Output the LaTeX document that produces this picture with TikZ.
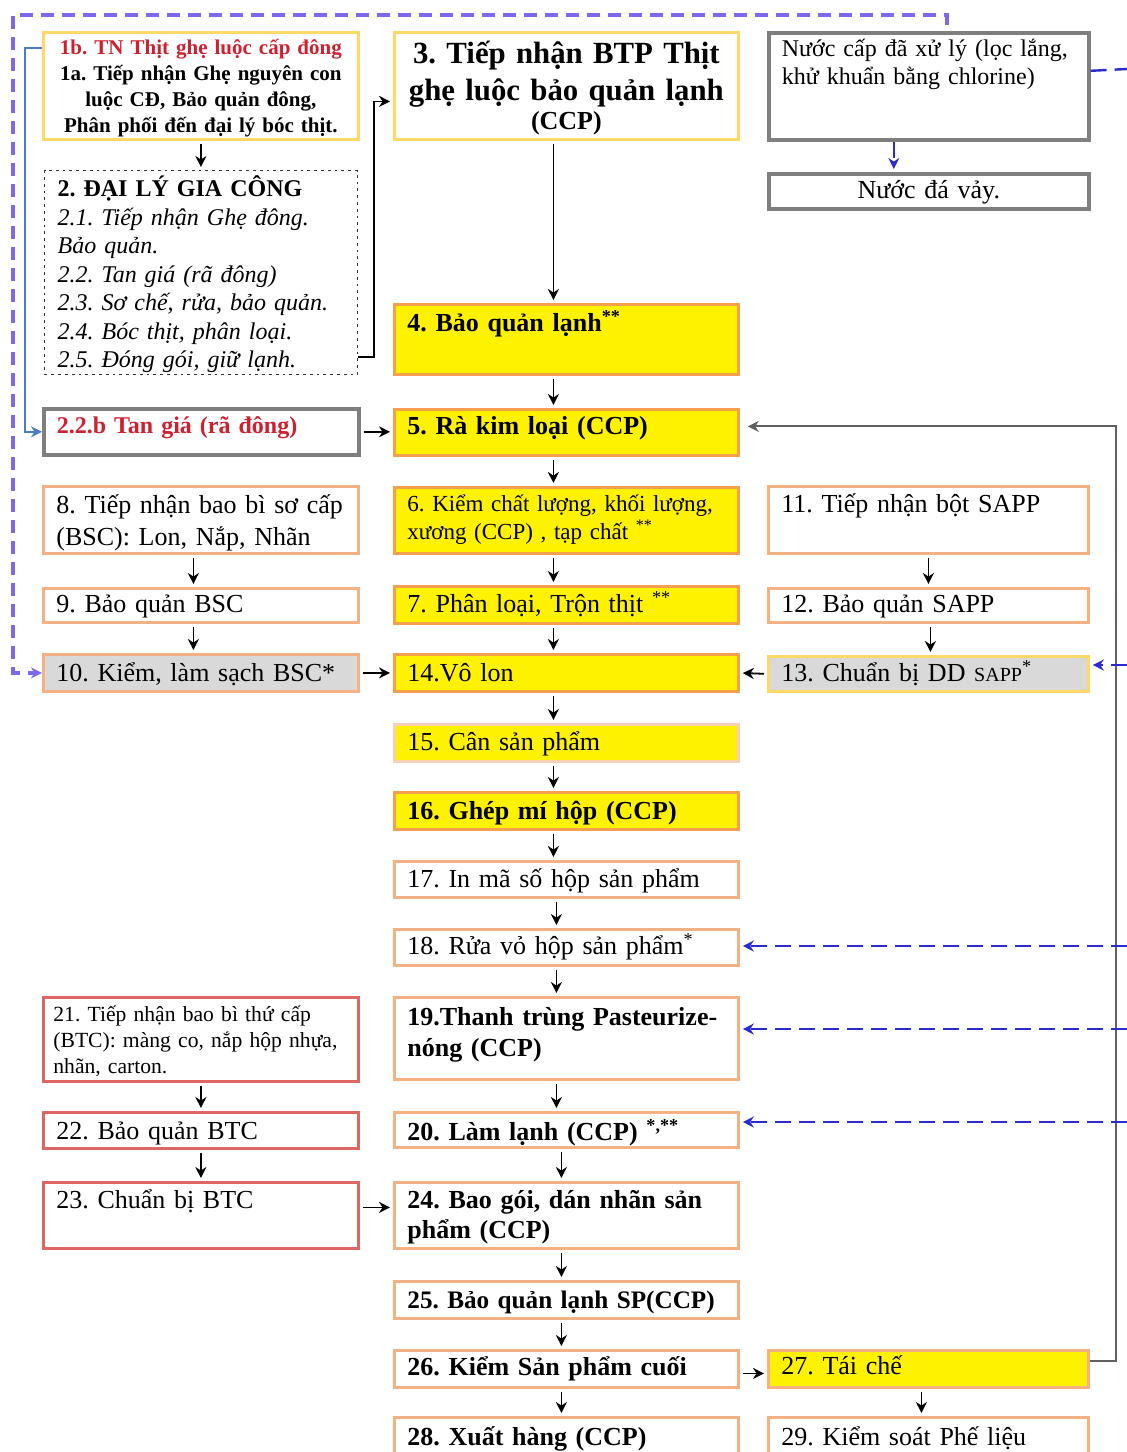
\documentclass[tikz,border=0pt]{standalone}
\usepackage{fontspec}
\setmainfont{Liberation Serif}
\usetikzlibrary{arrows.meta}

\definecolor{boxorange}{HTML}{F4B183}
\definecolor{yelorange}{HTML}{F5A04E}
\definecolor{goldline}{HTML}{FFD966}
\definecolor{boxgray}{HTML}{7F7F7F}
\definecolor{btcred}{HTML}{E06666}
\definecolor{graybg}{HTML}{D9D9D9}
\definecolor{txtred}{HTML}{D02030}
\definecolor{dashpurple}{HTML}{7B68EE}
\definecolor{waterblue}{HTML}{2A2AD0}
\definecolor{lineblue}{HTML}{4A7CC8}
\definecolor{recyclegray}{HTML}{606060}

\begin{document}
\frenchspacing
\begin{tikzpicture}[x=0.5pt,y=-0.5pt,>={Stealth[length=5.5pt,width=5.5pt]},
    stepbox/.style={draw,anchor=north west,inner xsep=6.5pt,inner ysep=0pt,
      align=left,line width=1.4pt,font=\fontsize{13}{16}\selectfont},
    btxt/.style={font=\fontsize{13}{16}\selectfont\bfseries},
    midcol/.style={minimum width=172pt,text width=159pt},
    leftcol/.style={minimum width=157.5pt,text width=144.5pt},
    rightcol/.style={minimum width=160pt,text width=147pt},
    hbase/.style 2 args={minimum height=#1,text height=#2,text depth=#1-#2},
    orbox/.style={draw=boxorange},
    yelbox/.style={fill=yellow,draw=yelorange},
    graybox/.style={draw=boxgray,line width=1.8pt},
    redbox/.style={draw=btcred},
    flow/.style={->,line width=0.9pt,shorten <=1.5pt,shorten >=1.5pt},
    recycle/.style={->,draw=recyclegray,line width=1pt,shorten >=4pt},
    wline/.style={draw=waterblue,line width=1.2pt,dash pattern=on 8pt off 4pt},
    wflow/.style={wline,->,shorten >=1.5pt},
    pline/.style={draw=dashpurple,line width=1.6pt,dash pattern=on 6.5pt off 4pt}]
  \useasboundingbox (0,0) rectangle (1127,1452);
  \clip (0,0) rectangle (1127,1452);

  % top row
  \node[stepbox,minimum width=157.5pt,text width=152.5pt,inner xsep=2.5pt,hbase={53.5pt}{11pt},
    draw=goldline,align=center,font=\fontsize{10.5}{13}\selectfont\bfseries] (n1) at (42,31)
    {{\color{txtred}1b. TN Thịt ghẹ luộc cấp đông}\\1a. Tiếp nhận Ghẹ nguyên con\\luộc CĐ, Bảo quản đông,\\Phân phối đến đại lý bóc thịt.};
  \node[stepbox,midcol,inner xsep=3pt,text width=166pt,hbase={53.5pt}{15.5pt},draw=goldline,align=center,
    font=\fontsize{15.4}{18.5}\selectfont\bfseries] (n3) at (393,31)
    {3. Tiếp nhận BTP Thịt\\ghẹ luộc bảo quản lạnh\\[-4pt]{\fontsize{13}{14}\selectfont(CCP)}};
  \node[stepbox,rightcol,hbase={53.5pt}{12pt},graybox,
    font=\fontsize{12}{14}\selectfont] (nw) at (767,31)
    {Nước cấp đã xử lý (lọc lắng,\\khử khuẩn bằng chlorine)};
  \node[stepbox,rightcol,hbase={17.5pt}{12.5pt},graybox,align=center] (nice) at (767,172) {Nước đá vảy.};

  % left column
  \node[stepbox,draw=black!80,dotted,line width=0.6pt,minimum width=156.5pt,text width=143.5pt,
    hbase={102pt}{13pt},font=\fontsize{12}{14.25}\selectfont\itshape] (n2) at (44,170)
    {{\upshape\bfseries 2. ĐẠI LÝ GIA CÔNG}\\2.1. Tiếp nhận Ghẹ đông.\\Bảo quản.\\2.2. Tan giá (rã đông)\\2.3. Sơ chế, rửa, bảo quản.\\2.4. Bóc thịt, phân loại.\\2.5. Đóng gói, giữ lạnh.};
  \node[stepbox,leftcol,hbase={23pt}{12.5pt},graybox,text=txtred,
    font=\fontsize{12}{14}\selectfont\bfseries] (n22b) at (42,407) {2.2.b Tan giá (rã đông)};
  \node[stepbox,leftcol,hbase={33.5pt}{13.5pt},orbox] (n8) at (42,485) {8. Tiếp nhận bao bì sơ cấp\\(BSC): Lon, Nắp, Nhãn};
  \node[stepbox,leftcol,hbase={17pt}{12pt},orbox] (n9) at (42,587) {9. Bảo quản BSC};
  \node[stepbox,leftcol,hbase={18.5pt}{13.5pt},orbox,fill=graybg] (n10) at (42,653) {10. Kiểm, làm sạch BSC*};
  \node[stepbox,leftcol,inner xsep=5pt,text width=147.5pt,hbase={42pt}{12pt},redbox,
    font=\fontsize{10.8}{13}\selectfont] (n21) at (42,996)
    {21. Tiếp nhận bao bì thứ cấp\\(BTC): màng co, nắp hộp nhựa,\\nhãn, carton.};
  \node[stepbox,leftcol,hbase={18pt}{13.5pt},redbox] (n22) at (42,1111) {22. Bảo quản BTC};
  \node[stepbox,leftcol,hbase={33pt}{13pt},redbox] (n23) at (42,1181) {23. Chuẩn bị BTC};

  % middle column
  \node[stepbox,midcol,hbase={35pt}{13.5pt},yelbox,btxt] (n4) at (393,303) {4. Bảo quản lạnh\textsuperscript{**}};
  \node[stepbox,midcol,hbase={23pt}{12.5pt},yelbox,btxt] (n5) at (393,408) {5. Rà kim loại (CCP)};
  \node[stepbox,midcol,hbase={33pt}{12pt},yelbox,font=\fontsize{11.5}{14}\selectfont] (n6) at (393,486)
    {6. Kiểm chất lượng, khối lượng,\\xương (CCP) , tạp chất \textsuperscript{**}};
  \node[stepbox,midcol,hbase={18.5pt}{13pt},yelbox] (n7) at (393,585) {7. Phân loại, Trộn thịt \textsuperscript{**}};
  \node[stepbox,midcol,hbase={18.5pt}{13.5pt},yelbox] (n14) at (393,653) {14.Vô lon};
  \node[stepbox,midcol,hbase={18.5pt}{13pt},yelbox,draw=boxorange!60] (n15) at (393,723) {15. Cân sản phẩm};
  \node[stepbox,midcol,hbase={18.5pt}{13.5pt},yelbox,btxt] (n16) at (393,791) {16. Ghép mí hộp (CCP)};
  \node[stepbox,midcol,hbase={18pt}{13pt},orbox] (n17) at (393,860) {17. In mã số hộp sản phẩm};
  \node[stepbox,midcol,hbase={18pt}{12.5pt},orbox] (n18) at (393,928) {18. Rửa vỏ hộp sản phẩm\textsuperscript{*}};
  \node[stepbox,midcol,hbase={41pt}{14pt},orbox,font=\fontsize{13}{15.5}\selectfont\bfseries] (n19) at (393,996)
    {19.Thanh trùng Pasteurize-\\nóng (CCP)};
  \node[stepbox,midcol,hbase={17.5pt}{14pt},orbox,btxt] (n20) at (393,1111) {20. Làm lạnh (CCP) \textsuperscript{*,**}};
  \node[stepbox,midcol,hbase={33pt}{13pt},orbox,font=\fontsize{13}{15}\selectfont\bfseries] (n24) at (393,1181)
    {24. Bao gói, dán nhãn sản\\phẩm (CCP)};
  \node[stepbox,midcol,hbase={18.5pt}{13.5pt},orbox,font=\fontsize{12.6}{15}\selectfont\bfseries] (n25) at (393,1280)
    {25. Bảo quản lạnh SP(CCP)};
  \node[stepbox,midcol,hbase={18.5pt}{12.5pt},orbox,btxt] (n26) at (393,1349) {26. Kiểm Sản phẩm cuối};
  \node[stepbox,midcol,hbase={25pt}{14pt},orbox,btxt] (n28) at (393,1416) {28. Xuất hàng (CCP)};

  % right column
  \node[stepbox,rightcol,hbase={33.5pt}{13pt},orbox] (n11) at (767,485) {11. Tiếp nhận bột SAPP};
  \node[stepbox,rightcol,hbase={17pt}{12pt},orbox] (n12) at (767,587) {12. Bảo quản SAPP};
  \node[stepbox,rightcol,hbase={17.5pt}{12.5pt},draw=goldline,fill=graybg] (n13) at (767,655)
    {13. Chuẩn bị DD {\fontsize{10}{12}\selectfont SAPP}\textsuperscript{*}};
  \node[stepbox,rightcol,hbase={18.5pt}{12pt},orbox,fill=yellow] (n27) at (767,1349) {27. Tái chế};
  \node[stepbox,rightcol,hbase={25pt}{14pt},orbox] (n29) at (767,1416) {29. Kiểm soát Phế liệu};

  % water feed ends at the right edge
  \coordinate (eW) at (1127,69);
  \coordinate (e13) at (1127,665);
  \coordinate (e18) at (1127,946);
  \coordinate (e19) at (1127,1029);
  \coordinate (e20) at (1127,1122);
  \coordinate (ptop) at (947,25);
  \coordinate (pcorner) at (13,15);

  % main flow
  \draw[flow] (n1.south) -- (n1.south |- n2.north);
  \draw[flow,shorten <=0pt] ([yshift=9pt]n2.south east) -- ++(8pt,0pt) |- ([yshift=-7.75pt]n3.west);
  \draw[flow] ([xshift=-6.5pt]n3.south) -- ([xshift=-6.5pt]n4.north);
  \draw[flow] ([xshift=-6.5pt]n4.south) -- ([xshift=-6.5pt]n5.north);
  \draw[flow] ([xshift=-6.5pt]n5.south) -- ([xshift=-6.5pt]n6.north);
  \draw[flow] ([xshift=-6.5pt]n6.south) -- ([xshift=-6.5pt]n7.north);
  \draw[flow] ([xshift=-6.5pt]n7.south) -- ([xshift=-6.5pt]n14.north);
  \draw[flow] ([xshift=-6.5pt]n14.south) -- ([xshift=-6.5pt]n15.north);
  \draw[flow] ([xshift=-6.5pt]n15.south) -- ([xshift=-6.5pt]n16.north);
  \draw[flow] ([xshift=-6.5pt]n16.south) -- ([xshift=-6.5pt]n17.north);
  \draw[flow] ([xshift=-5pt]n17.south) -- ([xshift=-5pt]n18.north);
  \draw[flow] ([xshift=-5pt]n18.south) -- ([xshift=-5pt]n19.north);
  \draw[flow] ([xshift=-5pt]n19.south) -- ([xshift=-5pt]n20.north);
  \draw[flow] ([xshift=-2.5pt]n20.south) -- ([xshift=-2.5pt]n24.north);
  \draw[flow] ([xshift=-2.5pt]n24.south) -- ([xshift=-2.5pt]n25.north);
  \draw[flow] ([xshift=-2.5pt]n25.south) -- ([xshift=-2.5pt]n26.north);
  \draw[flow] ([xshift=-2.5pt]n26.south) -- ([xshift=-2.5pt]n28.north);
  % side branches
  \draw[flow] ([xshift=-3.75pt]n8.south) -- ([xshift=-3.75pt]n9.north);
  \draw[flow] ([xshift=-3.75pt]n9.south) -- ([xshift=-3.75pt]n10.north);
  \draw[flow] (n21.south) -- (n22.north);
  \draw[flow] (n22.south) -- (n23.north);
  \draw[flow] (n11.south) -- (n12.north);
  \draw[flow] ([xshift=1pt]n12.south) -- ([xshift=1pt]n13.north);
  \draw[flow] ([xshift=-3.5pt]n27.south) -- ([xshift=-3.5pt]n29.north);
  \draw[flow] (n22b.east) -- (n22b.east -| n5.west);
  \draw[flow] (n10.east) -- (n14.west);
  \draw[flow] (n13.west) -- (n14.east);
  \draw[flow] ([yshift=4pt]n23.east) -- ([yshift=4pt]n24.west);
  \draw[flow] ([yshift=-2.25pt]n26.east) -- ([yshift=-2.25pt]n27.west);
  \draw[recycle] ([yshift=3.75pt]n27.east) -- ++(13pt,0pt) |- ([yshift=3pt]n5.east);
  \draw[->,draw=lineblue,line width=0.9pt] ([yshift=-8.5pt]n1.north west) -- ++(-8.5pt,0pt) |- (n22b.west);
  \draw[pline,->] (ptop) |- (pcorner) |- (n10.west);
  % water
  \draw[wline] ([yshift=7.75pt]nw.east) -- (eW);
  \draw[wflow] ([xshift=-17.5pt]nw.south) -- ([xshift=-17.5pt]nice.north);
  \draw[wflow] (e13) -- (e13 -| n13.east);
  \draw[wflow] (e18) -- (e18 -| n18.east);
  \draw[wflow] (e19) -- (e19 -| n19.east);
  \draw[wflow] (e20) -- (e20 -| n20.east);
\end{tikzpicture}
\end{document}
